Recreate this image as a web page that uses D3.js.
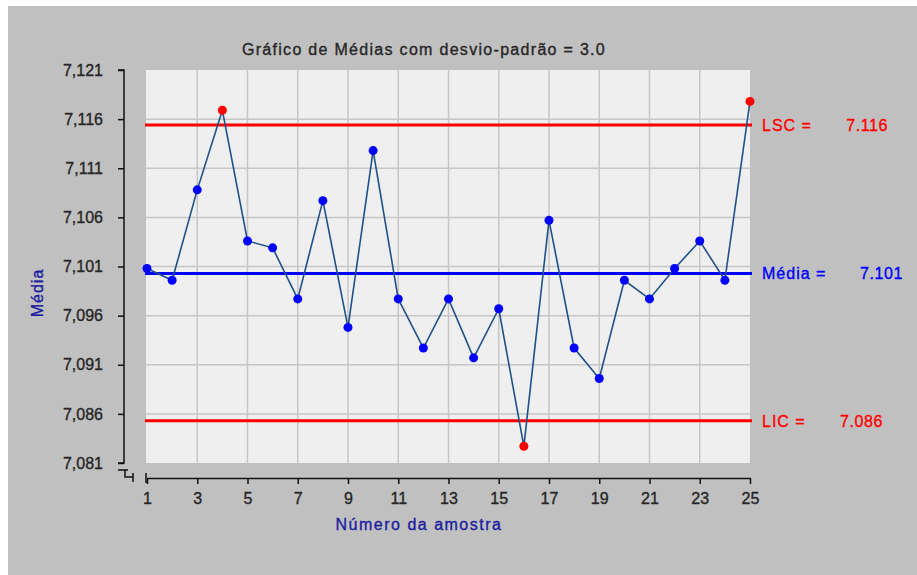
<!DOCTYPE html>
<html>
<head>
<meta charset="utf-8">
<script src="https://cdn.jsdelivr.net/npm/d3@7"></script>
<style>
  body { margin: 0; background: #fff; }
  text { font-family: 'Liberation Sans', Arial, sans-serif; font-size: 16px; stroke-width: 0.35px; }
</style>
</head>
<body>
<div id="canvas"></div>
<script>
// amostras 1..25 e as médias
const samples = d3.range(1, 26);
const means = [7.1008, 7.0996, 7.1088, 7.1169, 7.1036, 7.1029, 7.0977, 7.1077, 7.0948, 7.1128,
               7.0977, 7.0927, 7.0977, 7.0917, 7.0967, 7.0827, 7.1057, 7.0927, 7.0896, 7.0996,
               7.0977, 7.1008, 7.1036, 7.0996, 7.1178];
const limitNames = ['LSC =', 'Média =', 'LIC ='];
const limitValues = [7.1154, 7.1003, 7.0853];
const limitLabels = ['7.116', '7.101', '7.086'];
const yTicks = [7.081, 7.086, 7.091, 7.096, 7.101, 7.106, 7.111, 7.116, 7.121];
const xTicks = [1, 3, 5, 7, 9, 11, 13, 15, 17, 19, 21, 23, 25];

const w = 917;
const h = 575;
const pLeft = 147, pRight = 750, pTop = 70, pBottom = 463;
const dark = '#262626', navy = '#1c1c9e';

const svg = d3.select('#canvas')
  .append('svg')
  .attr('width', w)
  .attr('height', h);

svg.append('rect')
  .attr('x', 8).attr('y', 6)
  .attr('width', w - 8).attr('height', h - 6)
  .attr('fill', '#c0c0c0');

const xScale = d3.scaleLinear().domain([1, 25]).range([pLeft, pRight]);
const yScale = d3.scaleLinear().domain([7.081, 7.121]).range([pBottom, pTop]);

// área do gráfico
svg.append('rect')
  .attr('x', pLeft - 1).attr('y', pTop)
  .attr('width', pRight - pLeft + 1).attr('height', pBottom - pTop)
  .attr('fill', '#efefef');

// grade
svg.append('g').selectAll('line')
  .data(xTicks.slice(1, -1))
  .enter().append('line')
  .attr('x1', d => xScale(d)).attr('x2', d => xScale(d))
  .attr('y1', pTop).attr('y2', pBottom)
  .attr('stroke', '#c6c6c6').attr('stroke-width', 1.5);

svg.append('g').selectAll('line')
  .data(yTicks.slice(1, -1))
  .enter().append('line')
  .attr('x1', pLeft - 1).attr('x2', pRight)
  .attr('y1', d => yScale(d)).attr('y2', d => yScale(d))
  .attr('stroke', '#c6c6c6').attr('stroke-width', 1.5);

// linhas de controle
const limitColors = ['#ff0000', '#0000ff', '#ff0000'];
svg.append('g').selectAll('line')
  .data(limitValues)
  .enter().append('line')
  .attr('x1', pLeft - 2).attr('x2', pRight + 2)
  .attr('y1', d => yScale(d)).attr('y2', d => yScale(d))
  .attr('stroke', (d, i) => limitColors[i]).attr('stroke-width', 3);

svg.append('g').selectAll('text')
  .data(limitNames)
  .enter().append('text')
  .attr('x', 762)
  .attr('y', (d, i) => yScale(limitValues[i]) + 6)
  .attr('fill', (d, i) => limitColors[i])
  .attr('stroke', (d, i) => limitColors[i])
  .style('letter-spacing', '1px')
  .text(d => d);

const valueEnds = [888, 903, 883];
svg.append('g').selectAll('text')
  .data(limitLabels)
  .enter().append('text')
  .attr('x', (d, i) => valueEnds[i])
  .attr('y', (d, i) => yScale(limitValues[i]) + 6)
  .attr('text-anchor', 'end')
  .attr('fill', (d, i) => limitColors[i])
  .attr('stroke', (d, i) => limitColors[i])
  .style('letter-spacing', '0.6px')
  .text(d => d);

// série
const line = d3.line()
  .x((d, i) => xScale(samples[i]))
  .y(d => yScale(d));

svg.append('path')
  .datum(means)
  .attr('d', line)
  .attr('fill', 'none')
  .attr('stroke', '#1f5189')
  .attr('stroke-width', 1.6);

svg.append('g').selectAll('circle')
  .data(means)
  .enter().append('circle')
  .attr('cx', (d, i) => xScale(samples[i]))
  .attr('cy', d => yScale(d))
  .attr('r', 4.5)
  .attr('fill', d => (d > limitValues[0] || d < limitValues[2]) ? '#ff0000' : '#0000ff');

// eixo y
const yAxis = d3.axisLeft(yScale)
  .tickValues(yTicks)
  .tickSize(6)
  .tickPadding(15)
  .tickFormat(d => d3.format('.3f')(d).replace('.', ','));

const gy = svg.append('g')
  .attr('transform', 'translate(124, 0)')
  .call(yAxis);
gy.select('.domain').attr('d', 'M-6,' + pTop + 'H0V' + pBottom + 'H-6').attr('stroke', '#111').attr('stroke-width', 1.5);
gy.selectAll('.tick line').attr('stroke', '#111').attr('stroke-width', 1.5);
gy.selectAll('.tick text')
  .attr('fill', dark).attr('stroke', dark)
  .style('font-size', '16px')
  .style('font-family', "'Liberation Sans', Arial, sans-serif");

// quebra do eixo
svg.append('path')
  .attr('d', 'M118,470H128M125,470V477H133M133,473V482')
  .attr('fill', 'none').attr('stroke', '#111').attr('stroke-width', 1.5);

// eixo x
const xAxis = d3.axisBottom(xScale)
  .tickValues(xTicks)
  .tickSize(6)
  .tickPadding(9)
  .tickSizeOuter(0);

const gx = svg.append('g')
  .attr('transform', 'translate(0, 478)')
  .call(xAxis);
gx.select('.domain').attr('stroke', '#111').attr('stroke-width', 1.5);
gx.selectAll('.tick line').attr('stroke', '#111').attr('stroke-width', 1.5);
gx.selectAll('.tick text')
  .attr('fill', dark).attr('stroke', dark)
  .style('font-size', '16px')
  .style('font-family', "'Liberation Sans', Arial, sans-serif");
svg.append('line')
  .attr('x1', pLeft - 1).attr('x2', pLeft - 1)
  .attr('y1', 473).attr('y2', 483)
  .attr('stroke', '#111').attr('stroke-width', 1.5);

// títulos
svg.append('text')
  .attr('x', 424).attr('y', 55)
  .attr('text-anchor', 'middle')
  .attr('fill', dark).attr('stroke', dark)
  .style('letter-spacing', '1.3px')
  .text('Gráfico de Médias com desvio-padrão = 3.0');

svg.append('text')
  .attr('x', 419).attr('y', 530)
  .attr('text-anchor', 'middle')
  .attr('fill', navy).attr('stroke', navy)
  .style('letter-spacing', '1.5px')
  .text('Número da amostra');

svg.append('text')
  .attr('transform', 'translate(43, 293) rotate(-90)')
  .attr('text-anchor', 'middle')
  .attr('fill', navy).attr('stroke', navy)
  .style('letter-spacing', '1px')
  .text('Média');
</script>
</body>
</html>
